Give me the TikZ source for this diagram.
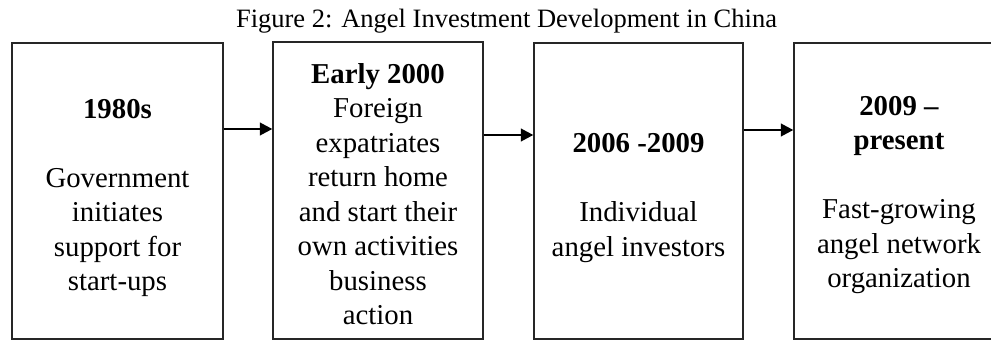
\documentclass[tikz,border=0pt]{standalone}
\usepackage{fontspec}
\setmainfont{Liberation Serif}
\usetikzlibrary{arrows.meta}
\begin{document}
\begin{tikzpicture}[x=1pt,y=1pt,
  box/.style={draw=black!85, line width=1.3pt, rectangle, inner sep=0pt, minimum height=296pt},
  txt/.style={align=center, inner sep=0pt, font=\fontsize{28.8}{34.5}\selectfont},
  arr/.style={line width=2.5pt, -{Triangle[length=12.5pt,width=12.5pt]}}]
\useasboundingbox (0,0) rectangle (991,341);
\clip (0,0) rectangle (991,341);
\fill[white] (0,0) rectangle (991,341);
\node[anchor=base, inner sep=0pt, font=\fontsize{26.5}{30}\selectfont] (title) at (506.5,313) {Figure 2: Angel Investment Development in China};
\node[box, minimum width=211pt] (b1) at (117.5,150) {};
\node[box, minimum width=210pt, minimum height=297pt] (b2) at (378,150.5) {};
\node[box, minimum width=209pt] (b3) at (638.5,150) {};
\node[box, minimum width=210pt] (b4) at (899,150) {};
\node[txt] (t1) at (117.5,143) {\textbf{1980s}\\[34.5pt]Government\\initiates\\support for\\start-ups};
\node[txt] (t2) at (378,147) {\textbf{Early 2000}\\Foreign\\expatriates\\return home\\and start their\\own activities\\business\\action};
\node[txt] (t3) at (638.5,143) {\textbf{2006 -2009}\\[34.5pt]Individual\\angel investors};
\node[txt] (t4) at (899,146) {\textbf{2009 –}\\\textbf{present}\\[34.5pt]Fast-growing\\angel network\\organization};
\draw[arr] (b1.east |- 0,212) -- (b2.west |- 0,212);
\draw[arr] (b2.east |- 0,206) -- (b3.west |- 0,206);
\draw[arr] (b3.east |- 0,211) -- (b4.west |- 0,211);
\end{tikzpicture}
\end{document}
